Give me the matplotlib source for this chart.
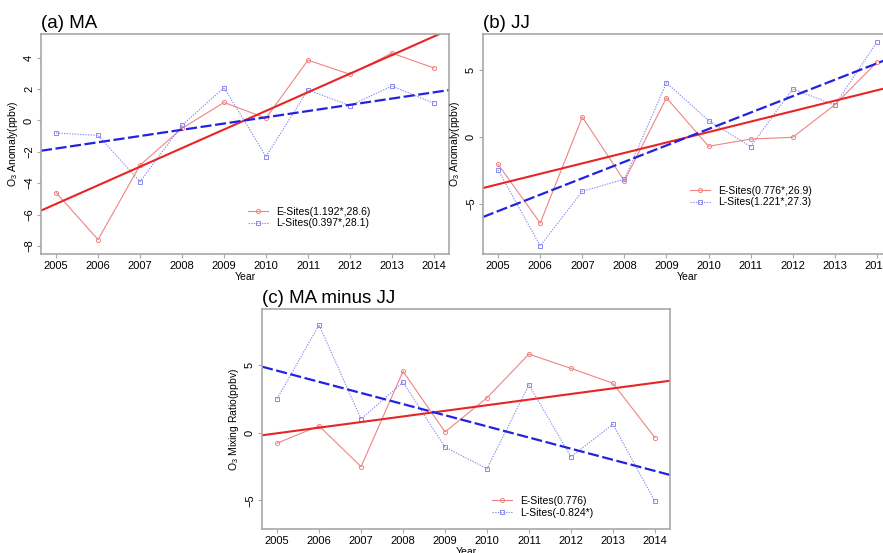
import numpy as np
import matplotlib
matplotlib.use("Agg")
import matplotlib.pyplot as plt

plt.rcParams['font.family'] = ['Liberation Sans', 'DejaVu Sans']
plt.rcParams['mathtext.default'] = 'regular'

years = np.arange(2005, 2015)

# (a) MA
ma_e = [-4.6, -7.6, -2.85, -0.5, 1.15, 0.15, 3.85, 2.95, 4.3, 3.35]
ma_l = [-0.8, -0.95, -3.9, -0.3, 2.1, -2.3, 1.95, 0.95, 2.2, 1.1]
# (b) JJ
jj_e = [-2.04, -6.43, 1.5, -3.28, 2.93, -0.69, -0.15, -0.02, 2.41, 5.59]
jj_l = [-2.46, -8.13, -4.06, -3.15, 4.06, 1.23, -0.71, 3.6, 2.39, 7.09]
# (c) MA minus JJ
diff_e = [-0.78, 0.49, -2.51, 4.51, 0.05, 2.56, 5.78, 4.73, 3.63, -0.37]
diff_l = [2.49, 7.93, 1.0, 3.71, -1.07, -2.66, 3.51, -1.78, 0.61, -5.07]

titles = ["(a) MA", "(b) JJ", "(c) MA minus JJ"]
ylabels = ["O$_3$ Anomaly(ppbv)", "O$_3$ Anomaly(ppbv)", "O$_3$ Mixing Ratio(ppbv)"]
e_labels = ["E-Sites(1.192*,28.6)", "E-Sites(0.776*,26.9)", "E-Sites(0.776)"]
l_labels = ["L-Sites(0.397*,28.1)", "L-Sites(1.221*,27.3)", "L-Sites(-0.824*)"]

E_LIGHT = "#f08484"
L_LIGHT = "#8a8af0"
E_TREND = "#e82424"
L_TREND = "#2222e0"
GREY = "#a8a8a8"

fig = plt.figure(figsize=(8.83, 5.53), dpi=100)
axes = [
    fig.add_axes([0.0464, 0.5407, 0.4621, 0.3978]),
    fig.add_axes([0.5470, 0.5407, 0.4632, 0.3978]),
    fig.add_axes([0.2967, 0.0434, 0.4621, 0.3978]),
]
ylims = [(-8.52, 5.52), (-8.74, 7.70), (-7.1, 9.1)]
yticks = [np.arange(-8, 5, 2), [-5, 0, 5], [-5, 0, 5]]
leg_anchor = [(0.507, 0.215), (0.506, 0.31), (0.564, 0.15)]

series = [(ma_e, ma_l), (jj_e, jj_l), (diff_e, diff_l)]

for i, ax in enumerate(axes):
    e, l = series[i]
    ax.plot(years, e, color=E_LIGHT, lw=0.8, marker='o', ms=3,
            mfc='none', mec=E_LIGHT, mew=0.7, label=e_labels[i])
    ax.plot(years, l, color=L_LIGHT, lw=0.8, ls=(0, (1.2, 1.2)), marker='s', ms=3,
            mfc='none', mec=L_LIGHT, mew=0.7, label=l_labels[i])

    # linear trends
    pe = np.polyfit(years, e, 1)
    pl = np.polyfit(years, l, 1)
    xm = years.mean()
    ax.axline((xm, np.polyval(pe, xm)), slope=pe[0], color=E_TREND, lw=1.5)
    ax.axline((xm, np.polyval(pl, xm)), slope=pl[0], color=L_TREND, lw=1.6,
              ls=(0, (5, 1.6)))

    ax.set_xlim(2004.64, 2014.36)
    ax.set_ylim(*ylims[i])
    ax.set_xticks(years)
    ax.set_yticks(yticks[i])
    ax.tick_params(axis='both', length=3, width=0.8, color=GREY,
                   labelsize=8, pad=2)
    for lab in ax.get_yticklabels():
        lab.set_rotation(90)
        lab.set_va('center')
    for sp in ax.spines.values():
        sp.set_color(GREY)
        sp.set_linewidth(1.2)

    ax.set_title(titles[i], loc='left', fontsize=13.5, pad=4)
    ax.set_xlabel("Year", fontsize=7.5, labelpad=1)
    ax.set_ylabel(ylabels[i], fontsize=7.5, labelpad=3)

    ax.legend(loc='upper left', bbox_to_anchor=leg_anchor[i], frameon=False,
              fontsize=7.5, handlelength=1.9, handletextpad=0.8,
              labelspacing=0.15, borderpad=0, borderaxespad=0)

fig.savefig("out.png", dpi=100)
